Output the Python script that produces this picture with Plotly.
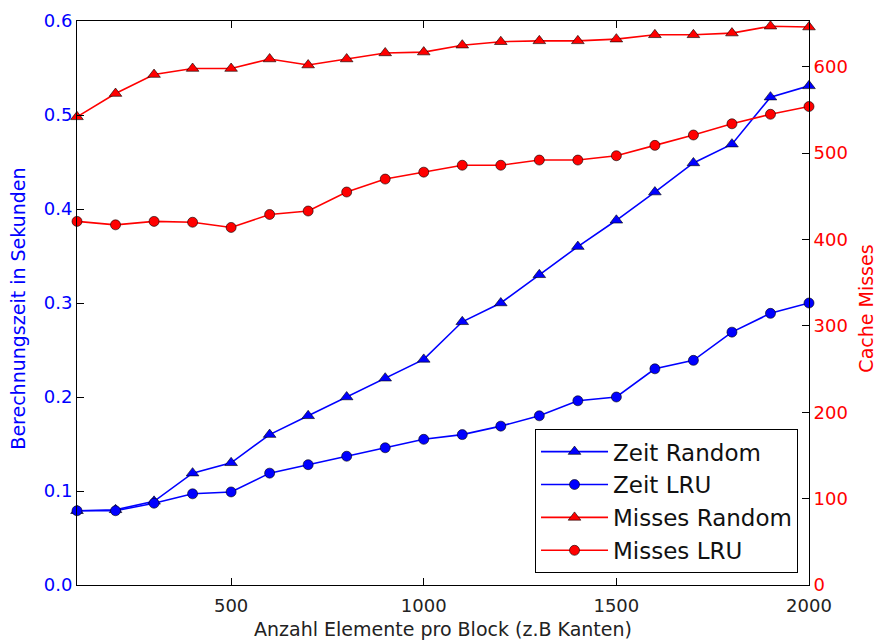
import plotly.graph_objects as go

# Block size (elements per block)
block_sizes = [100, 200, 300, 400, 500, 600, 700, 800, 900, 1000,
               1100, 1200, 1300, 1400, 1500, 1600, 1700, 1800, 1900, 2000]

# Computation time in seconds
zeit_random = [0.079, 0.080, 0.089, 0.119, 0.130, 0.160, 0.180, 0.200, 0.220, 0.240,
               0.280, 0.300, 0.330, 0.360, 0.388, 0.418, 0.449, 0.469, 0.519, 0.531]
zeit_lru = [0.079, 0.079, 0.087, 0.097, 0.099, 0.119, 0.128, 0.137, 0.146, 0.155,
            0.160, 0.169, 0.180, 0.196, 0.200, 0.230, 0.239, 0.269, 0.289, 0.300]

# Cache misses
misses_random = [542, 569, 591, 598, 598, 609, 602, 609, 616, 617,
                 625, 629, 630, 630, 632, 637, 637, 639, 647, 646]
misses_lru = [421, 417, 421, 420, 414, 429, 433, 455, 470, 478,
              486, 486, 492, 492, 497, 509, 521, 534, 545, 554]

FONT = "DejaVu Sans"
BLUE = "#0000ff"
RED = "#ff0000"
TEXT = "#222222"

fig = go.Figure()


def add_series(y, name, color, symbol, axis, size):
    fig.add_trace(go.Scatter(
        x=block_sizes, y=y, name=name, yaxis=axis, mode="lines+markers",
        line=dict(color=color, width=1.6),
        marker=dict(symbol=symbol, size=size, color=color,
                    line=dict(color="#000000", width=0.6)),
        cliponaxis=False,
    ))


add_series(zeit_random, "Zeit Random", BLUE, "triangle-up", "y", 11)
add_series(zeit_lru, "Zeit LRU", BLUE, "circle", "y", 10)
add_series(misses_random, "Misses Random", RED, "triangle-up", "y2", 11)
add_series(misses_lru, "Misses LRU", RED, "circle", "y2", 10)

fig.update_layout(
    width=876, height=643,
    margin=dict(l=77, r=67, t=21, b=58, autoexpand=False),
    paper_bgcolor="white", plot_bgcolor="white",
    font=dict(family=FONT, size=18, color=TEXT),
    showlegend=True,
    legend=dict(
        x=0.985, xanchor="right", y=0.021, yanchor="bottom",
        bordercolor="#000000", borderwidth=1, bgcolor="white",
        font=dict(family=FONT, size=23, color="#111111"),
        itemwidth=67,
    ),
    xaxis=dict(
        range=[100, 2000], tickvals=[500, 1000, 1500, 2000],
        ticks="inside", ticklen=7, tickcolor="#000000",
        showline=True, linecolor="#000000", linewidth=1, mirror="ticks",
        showgrid=False, zeroline=False, ticklabelstandoff=4, automargin=False,
        tickfont=dict(family=FONT, size=18, color=TEXT),
        title=dict(text="Anzahl Elemente pro Block (z.B Kanten)",
                   font=dict(family=FONT, size=19, color=TEXT), standoff=8),
    ),
    yaxis=dict(
        range=[0, 0.6], tickvals=[0, 0.1, 0.2, 0.3, 0.4, 0.5, 0.6],
        tickformat=".1f",
        ticks="inside", ticklen=7, tickcolor="#000000",
        showline=True, linecolor="#000000", linewidth=1,
        showgrid=False, zeroline=False, automargin=False,
        tickfont=dict(family=FONT, size=18, color=BLUE),
    ),
    yaxis2=dict(
        overlaying="y", side="right",
        range=[0, 653], tickvals=[0, 100, 200, 300, 400, 500, 600],
        ticks="inside", ticklen=7, tickcolor="#000000",
        showline=True, linecolor="#000000", linewidth=1,
        showgrid=False, zeroline=False, automargin=False,
        tickfont=dict(family=FONT, size=18, color=RED),
    ),
    annotations=[
        dict(text="Berechnungszeit in Sekunden", xref="paper", yref="paper",
             x=0, y=0.49, xshift=-59, textangle=-90, showarrow=False,
             xanchor="center", yanchor="middle",
             font=dict(family=FONT, size=19, color=BLUE)),
        dict(text="Cache Misses", xref="paper", yref="paper",
             x=1, y=0.49, xshift=57, textangle=-90, showarrow=False,
             xanchor="center", yanchor="middle",
             font=dict(family=FONT, size=19, color=RED)),
    ],
)

fig.write_html("out.html")
